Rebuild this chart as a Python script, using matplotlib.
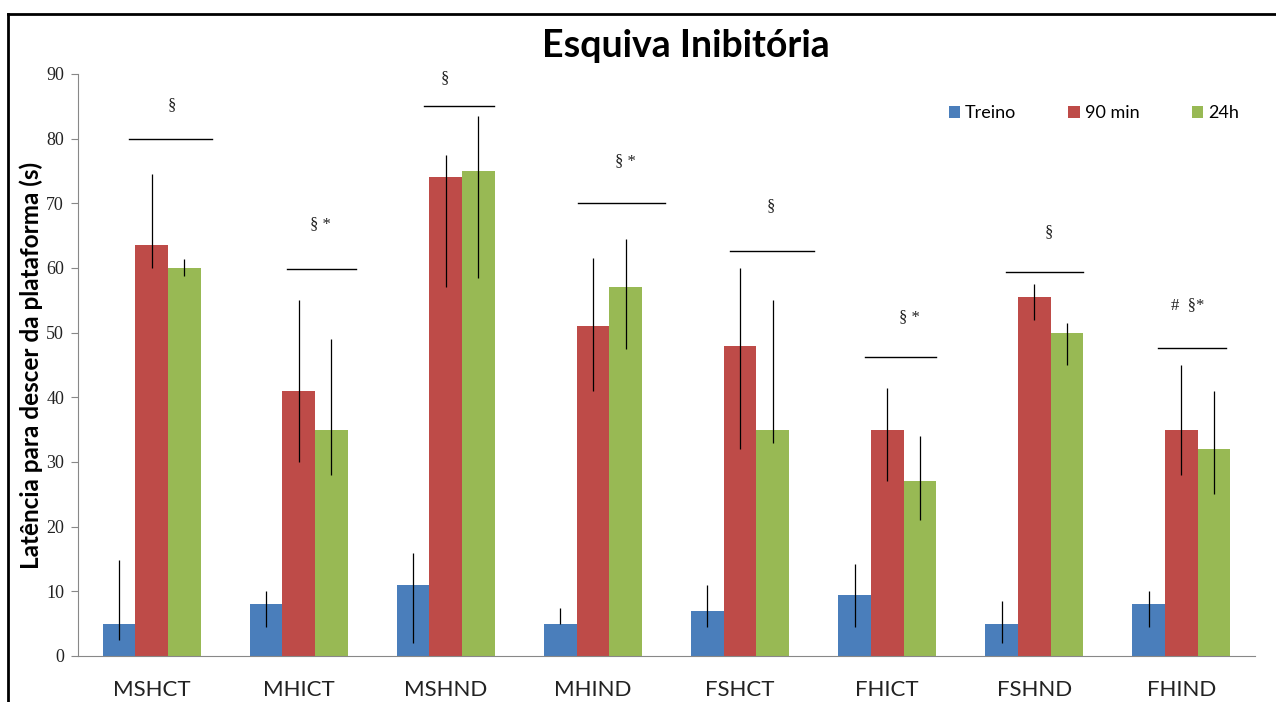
import matplotlib
matplotlib.use("Agg")
import matplotlib.pyplot as plt
from matplotlib.lines import Line2D
import numpy as np

BLUE  = "#4a7ebb"
RED   = "#be4b48"
GREEN = "#98b954"
SANS  = "Lato"
SERIF = "Liberation Serif"

groups  = ["MSHCT", "MHICT", "MSHND", "MHIND", "FSHCT", "FHICT", "FSHND", "FHIND"]
series  = ["Treino", "90 min", "24h"]

treino     = [5, 8, 11, 5, 7, 9.5, 5, 8]
min90      = [63.5, 41, 74, 51, 48, 35, 55.5, 35]
h24        = [60, 35, 75, 57, 35, 27, 50, 32]

# error bar extents (low, high)
treino_lo  = [2.5, 4.5, 2, 5, 4.5, 4.5, 2, 4.5]
treino_hi  = [14.8, 10, 16, 7.5, 11, 14.2, 8.5, 10]
min90_lo   = [60, 30, 57, 41, 32, 27, 52, 28]
min90_hi   = [74.5, 55, 77.5, 61.5, 60, 41.5, 57.5, 45]
h24_lo     = [58.8, 28, 58.5, 47.5, 33, 21, 45, 25]
h24_hi     = [61.4, 49, 83.5, 64.5, 55, 34, 51.5, 41]

# significance marks
sig_labels = ["§", "§ *", "§", "§ *", "§", "§ *", "§", "#  §*"]
sig_line_y = [80, 59.8, 85, 70, 62.6, 46.2, 59.4, 47.6]
sig_text_y = [85.2, 66.8, 89.4, 76.5, 69.6, 52.4, 65.6, 54.3]
sig_x0     = [-0.15, -0.08, -0.15, -0.10, -0.07, -0.15, -0.19, -0.16]
sig_x1     = [0.41, 0.39, 0.33, 0.49, 0.50, 0.33, 0.33, 0.30]
sig_tx     = [0.14, 0.15, -0.01, 0.22, 0.21, 0.15, 0.10, 0.04]

fig = plt.figure(figsize=(12.76, 7.02), dpi=100)
ax = fig.add_axes([78 / 1276, 1 - 656 / 702, (1255 - 78) / 1276, (656 - 74) / 702])

x = np.arange(len(groups))
w = 0.222
data = [(treino, treino_lo, treino_hi, BLUE),
        (min90, min90_lo, min90_hi, RED),
        (h24, h24_lo, h24_hi, GREEN)]
for k, (vals, lo, hi, col) in enumerate(data):
    xs = x + (k - 1) * w
    ax.bar(xs, vals, width=w, color=col, label=series[k], zorder=2)
    ax.vlines(xs, lo, hi, color="black", linewidth=0.9, zorder=3)

for i in range(len(groups)):
    ax.plot([i + sig_x0[i], i + sig_x1[i]], [sig_line_y[i], sig_line_y[i]],
            color="black", linewidth=1.0, zorder=3)
    ax.text(i + sig_tx[i], sig_text_y[i], sig_labels[i], ha="center", va="center",
            fontsize=12, family=SERIF, color="#222222")

ax.set_xlim(-0.5, len(groups) - 0.5)
ax.set_ylim(0, 90)
ax.set_yticks(range(0, 91, 10))
ax.set_xticks(x)
ax.set_xticklabels(groups, fontsize=16, family=SANS, color="#222222")
for lbl in ax.get_yticklabels():
    lbl.set_family(SERIF)
    lbl.set_fontsize(13)
    lbl.set_color("#222222")
ax.tick_params(axis="x", length=0, pad=17)
ax.tick_params(axis="y", direction="out", length=5, color="#888888", pad=5)
for s in ["top", "right"]:
    ax.spines[s].set_visible(False)
ax.spines["left"].set_color("#888888")
ax.spines["bottom"].set_color("#888888")

ax.set_ylabel("Latência para descer da plataforma (s)", fontsize=17.5,
              fontweight="bold", family=SANS, labelpad=2)

fig.text(686 / 1276, 1 - 46 / 702, "Esquiva Inibitória", ha="center", va="center",
         fontsize=27, fontweight="bold", family=SANS)

ax.legend(loc="upper right", bbox_to_anchor=(1.0, 0.974), ncol=3, frameon=False,
          handlelength=0.65, handleheight=0.65, columnspacing=2.9,
          handletextpad=0.25, prop={"family": SANS, "size": 13})

# figure border (top and left visible)
fig.add_artist(Line2D([8 / 1276, 1.0], [1 - 14 / 702, 1 - 14 / 702],
                      transform=fig.transFigure, color="black", linewidth=2))
fig.add_artist(Line2D([8 / 1276, 8 / 1276], [0.0, 1 - 14 / 702],
                      transform=fig.transFigure, color="black", linewidth=2))

fig.savefig("out.png", dpi=100, facecolor="white")
